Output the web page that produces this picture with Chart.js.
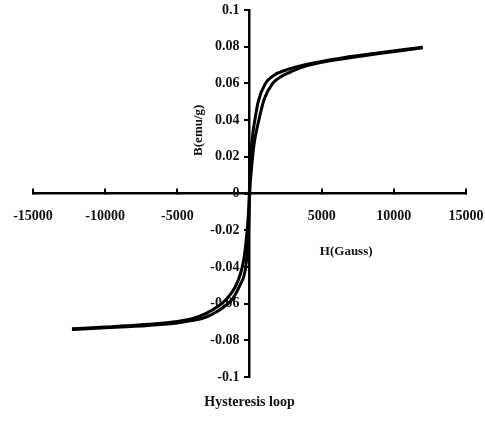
<!DOCTYPE html>
<html>
<head>
<meta charset="utf-8">
<script src="https://cdn.jsdelivr.net/npm/chart.js@4"></script>
<style>
html,body{margin:0;padding:0;background:#fff;}
#wrap{width:485px;height:421px;}
</style>
</head>
<body>
<div id="wrap"><canvas id="c" width="485" height="421"></canvas></div>
<script>
// Descending branch (left curve): field H (Gauss) and B (emu/g)
const descH = [-12300,-10000,-7000,-5000,-4000,-3000,-2200,-1600,-1000,-620,-400,-250,-130,-50,0,60,150,250,370,600,1100,1700,2500,4000,6500,9000,12000];
const descB = [-0.0736,-0.0727,-0.0712,-0.0697,-0.0682,-0.0652,-0.0615,-0.0575,-0.0510,-0.0435,-0.0360,-0.0270,-0.0170,-0.0070,0.0030,0.0140,0.0260,0.0340,0.0400,0.0500,0.0600,0.0645,0.0672,0.0705,0.0740,0.0767,0.0797];
// Ascending branch (right curve)
const ascH = [-12300,-10000,-7000,-5000,-4000,-3000,-2300,-1700,-1200,-700,-330,-180,-80,-25,30,120,300,450,645,1000,1600,2200,3000,4000,6500,9000,12000];
const ascB = [-0.0740,-0.0731,-0.0718,-0.0705,-0.0692,-0.0672,-0.0645,-0.0612,-0.0576,-0.0505,-0.0431,-0.0340,-0.0230,-0.0100,0.0030,0.0120,0.0260,0.0330,0.0400,0.0510,0.0600,0.0638,0.0668,0.0697,0.0735,0.0763,0.0794];

const xTickValues = [-15000,-10000,-5000,0,5000,10000,15000];
const xTickLabels = ['-15000','-10000','-5000','','5000','10000','15000'];
const yTickValues = [-0.1,-0.08,-0.06,-0.04,-0.02,0,0.02,0.04,0.06,0.08,0.1];
const yTickLabels = ['-0.1','-0.08','-0.06','-0.04','-0.02','0','0.02','0.04','0.06','0.08','0.1'];

const xTitle = 'H(Gauss)';
const yTitle = 'B(emu/g)';
const chartTitle = 'Hysteresis loop';

const toPoints = (hs, bs) => hs.map((h, i) => ({x: h, y: bs[i]}));
const FONT = 'Liberation Serif';

// Shift y tick labels to the left of the centred axis line
const yLabelGap = {
  id: 'yLabelGap',
  beforeDraw(chart) {
    const s = chart.scales.y;
    if (s && !s._gapWrapped) {
      const orig = s.drawLabels;
      s.drawLabels = function (ca) {
        const ctx = this.ctx;
        ctx.save();
        ctx.translate(-10, 0);
        orig.call(this, ca);
        ctx.restore();
      };
      s._gapWrapped = true;
    }
  }
};

const axisTitles = {
  id: 'axisTitles',
  afterDraw(chart) {
    const {ctx, scales} = chart;
    ctx.save();
    ctx.fillStyle = '#111';
    ctx.font = 'bold 13px "' + FONT + '"';
    ctx.textAlign = 'center';
    ctx.textBaseline = 'middle';
    const x0 = scales.x.getPixelForValue(0);
    const y0 = scales.y.getPixelForValue(0);
    ctx.fillText(xTitle, scales.x.getPixelForValue(6700), y0 + 58);
    ctx.translate(x0 - 51, scales.y.getPixelForValue(0.0345));
    ctx.rotate(-Math.PI / 2);
    ctx.fillText(yTitle, 0, 0);
    ctx.restore();
  }
};

const noEdgePadding = (scale) => {
  scale.paddingLeft = 0; scale.paddingRight = 0;
  scale.paddingTop = 0; scale.paddingBottom = 0;
};

new Chart(document.getElementById('c'), {
  type: 'scatter',
  data: {
    datasets: [
      {label: 'Descending', data: toPoints(descH, descB), showLine: true, borderColor: '#000', borderWidth: 3, pointRadius: 0, cubicInterpolationMode: 'monotone', fill: false},
      {label: 'Ascending', data: toPoints(ascH, ascB), showLine: true, borderColor: '#000', borderWidth: 3, pointRadius: 0, cubicInterpolationMode: 'monotone', fill: false}
    ]
  },
  options: {
    responsive: false,
    animation: false,
    layout: {padding: {left: 33, right: 19, top: 10, bottom: 0}},
    plugins: {
      legend: {display: false},
      tooltip: {enabled: false},
      title: {
        display: true, position: 'bottom', text: chartTitle, color: '#111',
        font: {family: FONT, size: 14, weight: 'bold'},
        padding: {top: 17, bottom: 10}
      }
    },
    scales: {
      x: {
        type: 'linear', min: -15000, max: 15000, position: {y: 0},
        afterBuildTicks: (axis) => { axis.ticks = xTickValues.map(v => ({value: v})); },
        afterFit: noEdgePadding,
        border: {display: true, color: '#000', width: 2.5},
        grid: {drawOnChartArea: false, drawTicks: true, tickLength: -6, color: '#000', lineWidth: 2},
        ticks: {
          color: '#111', font: {family: FONT, size: 14, weight: 'bold'}, padding: 20,
          maxRotation: 0, autoSkip: false,
          callback: (v) => { const i = xTickValues.indexOf(v); return i >= 0 ? xTickLabels[i] : ''; }
        }
      },
      y: {
        type: 'linear', min: -0.1, max: 0.1, position: {x: 0},
        afterBuildTicks: (axis) => { axis.ticks = yTickValues.map(v => ({value: v})); },
        afterFit: noEdgePadding,
        border: {display: true, color: '#000', width: 2.5},
        grid: {drawOnChartArea: false, drawTicks: true, tickLength: 4, color: '#000', lineWidth: 2},
        ticks: {
          color: '#111', font: {family: FONT, size: 14, weight: 'bold'}, padding: 6,
          autoSkip: false,
          callback: (v) => { const i = yTickValues.findIndex(t => Math.abs(t - v) < 1e-9); return i >= 0 ? yTickLabels[i] : ''; }
        }
      }
    }
  },
  plugins: [yLabelGap, axisTitles]
});
</script>
</body>
</html>
